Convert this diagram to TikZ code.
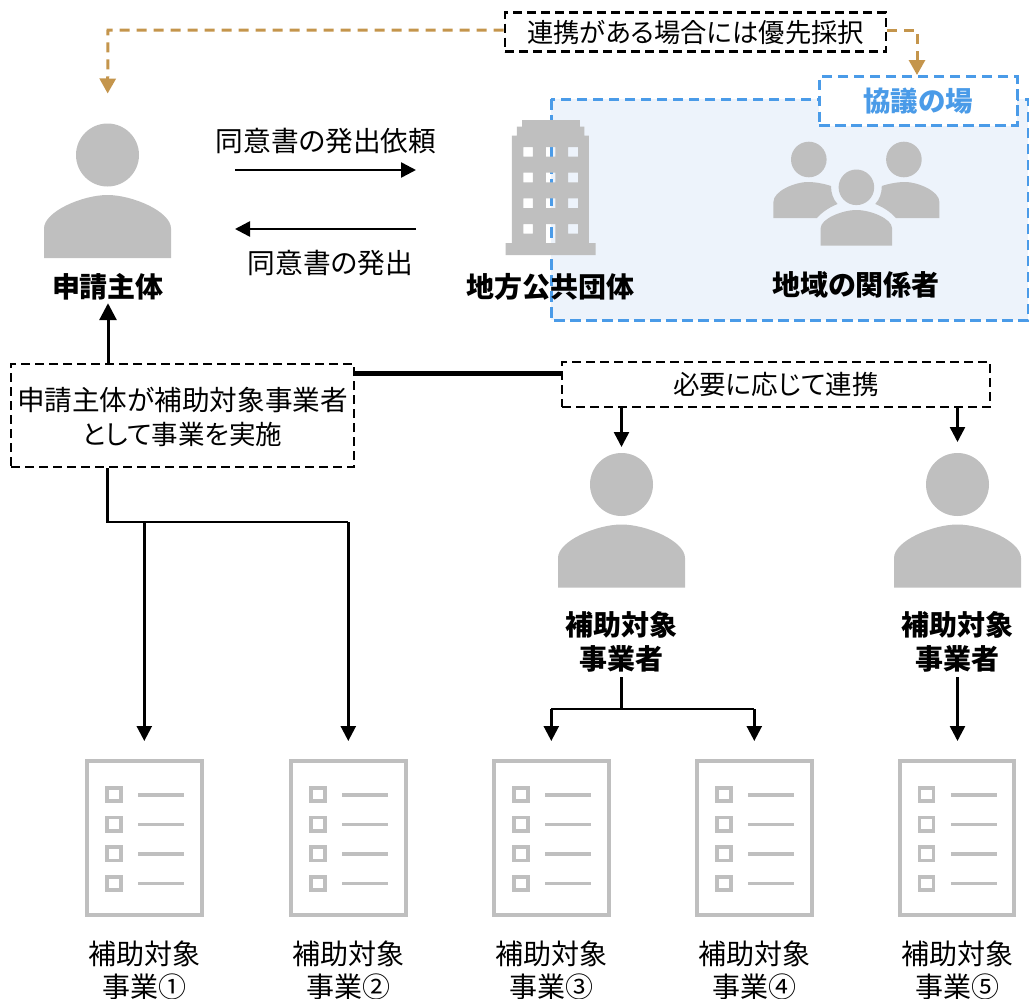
\documentclass[tikz,border=0pt]{standalone}
\usepackage{fontspec}
\setmainfont{Noto Sans CJK JP}[RawFeature=+palt]
\usetikzlibrary{arrows.meta,calc}
\definecolor{icongray}{HTML}{BFBFBF}
\definecolor{tan}{HTML}{C4954C}
\definecolor{blueline}{HTML}{4A9BE8}
\definecolor{bluefill}{HTML}{EDF3FB}
\tikzset{
  x=1pt,y=-1pt,
  txt/.style={inner sep=0pt,align=center,font=\fontsize{27.7}{34}\selectfont},
  doctxt/.style={inner sep=0pt,align=center,font=\fontsize{28}{33}\selectfont},
  boldtxt/.style={inner sep=0pt,align=center,font=\fontsize{28}{34}\selectfont\bfseries},
  dashbox/.style={draw=black,line width=2.6pt,dash pattern=on 9pt off 5pt,inner sep=0pt,align=center,font=\fontsize{26.5}{34}\selectfont},
  arrowline/.style={draw=black,line width=2.5pt,-{Triangle[length=15pt,width=15pt]}},
  plainline/.style={draw=black,line width=2.5pt},
  tanline/.style={draw=tan,line width=3pt,dash pattern=on 10pt off 7pt,-{Triangle[length=15pt,width=16pt]}},
  bluedash/.style={draw=blueline,line width=3pt,dash pattern=on 10.5pt off 5.5pt},
  docframe/.style={draw=icongray,line width=4pt,minimum width=114.5pt,minimum height=154pt,inner sep=0pt},
  personicon/.pic={
    \fill[icongray] (0,31.5) circle[radius=31.5];
    \fill[icongray] (-63.5,134.5) -- (-63.5,105) .. controls (-63.5,88) and (-25,71.5) .. (0,71.5) .. controls (25,71.5) and (63.5,88) .. (63.5,105) -- (63.5,134.5) -- cycle;
  },
  docicon/.pic={
    \foreach \yy in {0,29.6,59.2,88.9}{
      \draw[icongray,line width=3.6pt] (-37.5,\yy-6.2) rectangle (-23.4,\yy+7.2);
      \draw[icongray,line width=3.6pt] (-6,\yy+0.7) -- (40,\yy+0.7);
    }
  },
}
\begin{document}
\begin{tikzpicture}
\useasboundingbox (0,0) rectangle (1029,999);

% blue region
\draw[bluedash,fill=bluefill] (551,99) rectangle (1028,320);
\node[bluedash,fill=white,minimum width=198pt,minimum height=49pt,inner sep=0pt,text=blueline,font=\fontsize{27.5}{34}\selectfont\bfseries] (kyogi) at (918,101) {協議の場};

% top label box
\node[dashbox,minimum width=381pt,minimum height=39pt,font=\fontsize{26.3}{34}\selectfont] (renkei) at (695.5,32) {連携がある場合には優先採択};

% applicant person
\pic at (107.5,123.5) {personicon};
\coordinate (applhead) at (107.5,123.5);
\node[boldtxt,minimum height=32pt] (appl) at (108,287) {申請主体};

% building
\fill[icongray,even odd rule]
  (522,120) -- (579.8,120) -- (579.8,126.7) -- (584.3,126.7) -- (584.3,135.7) -- (588.9,135.7) -- (588.9,243)
  -- (595.5,243) -- (595.5,255) -- (505.6,255) -- (505.6,243) -- (511.9,243) -- (511.9,135.7) -- (516.8,135.7) -- (516.8,126.7) -- (522,126.7) -- cycle
  (523.4,147) rectangle (532.9,156.7) (545.8,147) rectangle (555.3,156.7) (568.2,147) rectangle (578,156.7)
  (523.4,172.7) rectangle (532.9,182.3) (545.8,172.7) rectangle (555.3,182.3) (568.2,172.7) rectangle (578,182.3)
  (523.4,198.3) rectangle (532.9,208) (545.8,198.3) rectangle (555.3,208) (568.2,198.3) rectangle (578,208)
  (523.4,224) rectangle (532.9,233.7) (545.8,224) rectangle (555.3,243) (568.2,224) rectangle (578,233.7);
\node[boldtxt] (gov) at (550,287) {地方公共団体};

% group icon
\fill[icongray] (808.8,159.5) circle[radius=17.8] (903.9,159.5) circle[radius=17.8] (856.4,187.3) circle[radius=17.8];
\fill[icongray] (820.7,245.7) -- (820.7,228) .. controls (820.7,219) and (842,210) .. (856.4,210) .. controls (871,210) and (892,219) .. (892,228) -- (892,245.7) -- cycle;
\fill[icongray] (773.4,218) -- (773.4,202) .. controls (773.4,191) and (795,182) .. (808,182) .. controls (816,182) and (825,184) .. (831,186) .. controls (831,193) and (833,199) .. (837.5,204) .. controls (830,207) and (822,212) .. (817,218) -- cycle;
\fill[icongray] (939.4,218) -- (939.4,202) .. controls (939.4,191) and (917.8,182) .. (904.8,182) .. controls (896.8,182) and (887.8,184) .. (881.8,186) .. controls (881.8,193) and (879.8,199) .. (875.3,204) .. controls (882.8,207) and (890.8,212) .. (895.8,218) -- cycle;
\node[boldtxt] (local) at (856,285) {地域の関係者};

% consent messages
\coordinate (reqa) at (235,170); \coordinate (reqb) at (416,170);
\coordinate (issa) at (416,229); \coordinate (issb) at (235,229);
\node[txt] (reqlabel) at (326,141) {同意書の発出依頼};
\node[txt] (isslabel) at (330.5,263) {同意書の発出};
\draw[arrowline] (reqa) -- (reqb);
\draw[arrowline] (issa) -- (issb);

% tan connectors
\coordinate (tanleft) at (108,30);
\coordinate (tanright) at (917,30);
\draw[tanline] (renkei.west |- tanleft) -- (tanleft) -- (applhead) [shorten >=30pt];
\draw[tanline] (renkei.east |- tanright) -- (tanright) -- (kyogi.north -| tanright);

% boxes
\node[dashbox,minimum width=343pt,minimum height=103pt] (mainbox) at (182.5,415.5) {};
\node[txt,font=\fontsize{27.6}{34}\selectfont] (mainlabel) at (182.5,417) {申請主体が補助対象事業者\\{\fontsize{26.5}{34}\selectfont として事業を実施}};
\node[dashbox,minimum width=428pt,minimum height=45pt] (needbox) at (776,384.5) {必要に応じて連携};
\draw[arrowline,line width=3pt,-{Triangle[length=17pt,width=17pt]}] (mainbox.north -| appl.south) -- (appl.south);
\draw[draw=black,line width=4.5pt] (mainbox.east |- 0,373.5) -- (needbox.west |- 0,373.5);

% persons
\pic at (621.5,453) {personicon};
\coordinate (p2) at (621.5,453);
\pic at (957.5,453) {personicon};
\coordinate (p3) at (957.5,453);
\node[boldtxt,minimum height=70pt] (p2label) at (621.5,642) {補助対象\\事業者};
\node[boldtxt,minimum height=70pt] (p3label) at (957.5,642) {補助対象\\事業者};
\draw[arrowline,shorten >=6pt] (needbox.south -| p2) -- (p2);
\draw[arrowline,shorten >=11pt] (needbox.south -| p3) -- (p3);

% documents
\node[docframe] (doc1) at (144.3,838) {};
\node[docframe] (doc2) at (348.3,838) {};
\node[docframe] (doc3) at (551.3,838) {};
\node[docframe] (doc4) at (754.3,838) {};
\node[docframe] (doc5) at (956.8,838) {};
\pic at (144.3,794) {docicon};
\pic at (348.3,794) {docicon};
\pic at (551.3,794) {docicon};
\pic at (754.3,794) {docicon};
\pic at (956.8,794) {docicon};
\node[doctxt] (d1label) at (144,970) {補助対象\\事業①};
\node[doctxt] (d2label) at (348,970) {補助対象\\事業②};
\node[doctxt] (d3label) at (551,970) {補助対象\\事業③};
\node[doctxt] (d4label) at (754,970) {補助対象\\事業④};
\node[doctxt] (d5label) at (957,970) {補助対象\\事業⑤};

% tree connectors
\coordinate (j1) at (107.5,522);
\coordinate (j2) at (621.5,709);
\draw[plainline] (mainbox.south -| j1) -- (j1) -- (j1 -| doc2.north);
\draw[arrowline,shorten >=18pt] (j1 -| doc1.north) -- (doc1.north);
\draw[arrowline,shorten >=18pt] (j1 -| doc2.north) -- (doc2.north);
\draw[plainline] (p2label.south) -- (j2);
\draw[plainline] (j2 -| doc3.north) -- (j2 -| doc4.north);
\draw[arrowline,shorten >=18pt] (j2 -| doc3.north) -- (doc3.north);
\draw[arrowline,shorten >=18pt] (j2 -| doc4.north) -- (doc4.north);
\draw[arrowline,shorten >=18pt] (p3label.south) -- (p3label.south |- doc5.north);
\end{tikzpicture}
\end{document}
